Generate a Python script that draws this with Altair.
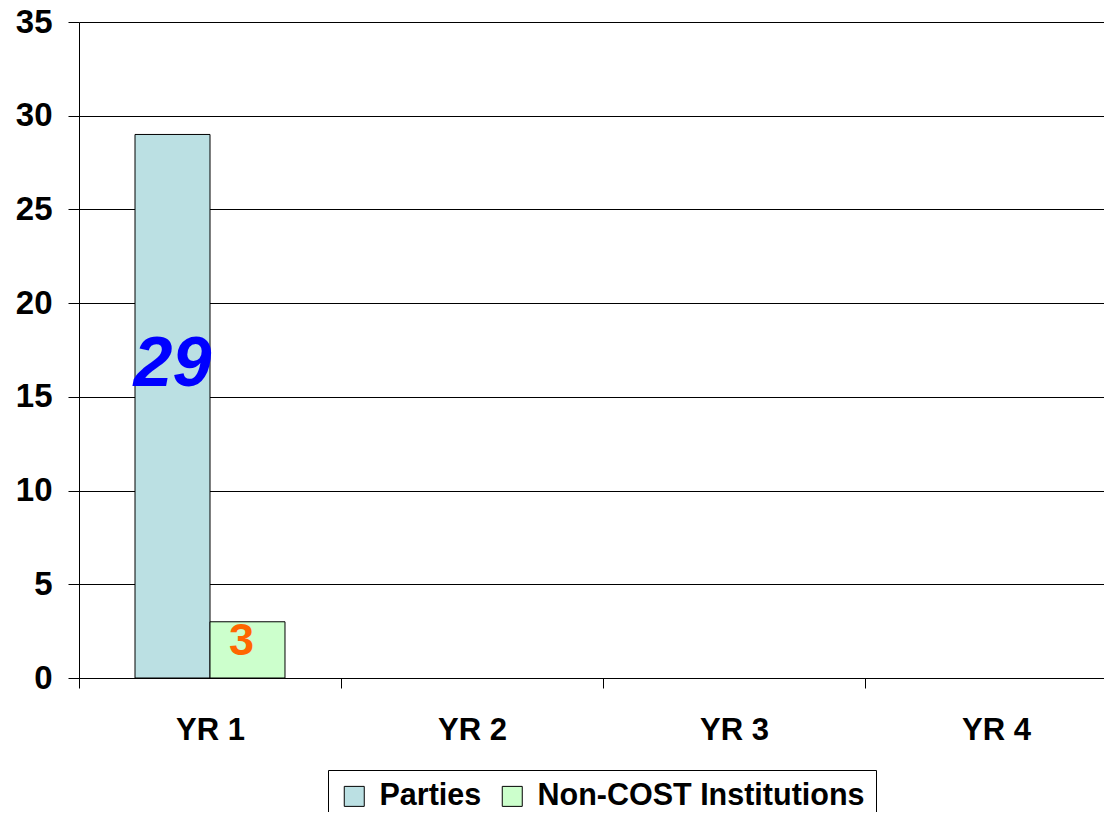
import altair as alt
import pandas as pd

years = ["YR 1", "YR 2", "YR 3", "YR 4"]
series = ["Parties", "Non-COST Institutions"]
parties = [29, None, None, None]
non_cost = [3, None, None, None]
colors = ["#BBE0E3", "#CCFFCC"]

rows = []
for i, y in enumerate(years):
    rows.append({"year": y, "series": series[0], "value": parties[i]})
    rows.append({"year": y, "series": series[1], "value": non_cost[i]})
df = pd.DataFrame(rows)

FONT = "Liberation Sans"

x_enc = alt.X("year:N", scale=alt.Scale(domain=years, range=[0, 1048], paddingInner=0, paddingOuter=0),
              axis=alt.Axis(title=None, labelAngle=0, labelFont=FONT, labelFontSize=31, labelFontWeight="bold",
                            labelColor="black", tickBand="extent", tickSize=10, tickColor="black",
                            domainColor="black", labelPadding=27, grid=False))
xoff = alt.XOffset("series:N", scale=alt.Scale(domain=series, paddingInner=0, paddingOuter=0.7467))
y_enc = alt.Y("value:Q", scale=alt.Scale(domain=[0, 35], nice=False),
              axis=alt.Axis(title=None, values=[0, 5, 10, 15, 20, 25, 30, 35], labelFont=FONT, labelFontSize=33,
                            labelFontWeight="bold", labelColor="black", tickSize=11, tickColor="black",
                            domainColor="black", gridColor="black", gridWidth=1, labelPadding=16))

bars = alt.Chart(df).mark_bar(stroke="black", strokeWidth=1).encode(
    x=x_enc, xOffset=xoff, y=y_enc,
    color=alt.Color("series:N", scale=alt.Scale(domain=series, range=colors),
                    legend=alt.Legend(title=None, orient="none", legendX=249, legendY=748, direction="horizontal",
                                      strokeColor="black", fillColor="white", padding=11, symbolType="square",
                                      symbolSize=400, symbolStrokeColor="black", symbolStrokeWidth=1,
                                      labelFont=FONT, labelFontSize=30.5, labelFontWeight="bold", labelColor="black",
                                      labelOffset=10, columnPadding=15, labelLimit=600, symbolOpacity=1)),
)

t1 = alt.Chart(df).transform_filter(alt.datum.series == "Parties").transform_filter("isValid(datum.value)").mark_text(
    font=FONT, fontSize=70, fontWeight="bold", fontStyle="italic", color="#0000FF", baseline="middle", dy=231
).encode(x=alt.X("year:N"), xOffset=alt.XOffset("series:N"), y=alt.Y("value:Q"), text=alt.Text("value:Q"))

t2 = alt.Chart(df).transform_filter(alt.datum.series == "Non-COST Institutions").transform_filter("isValid(datum.value)").mark_text(
    font=FONT, fontSize=45, fontWeight="bold", color="#FF6600", baseline="middle", dy=19, dx=-6
).encode(x=alt.X("year:N"), xOffset=alt.XOffset("series:N"), y=alt.Y("value:Q"), text=alt.Text("value:Q"))

chart = alt.layer(bars, t1, t2).properties(
    width=1025, height=656,
    autosize=alt.AutoSizeParams(type="none"),
    padding={"left": 71, "top": 14, "right": 0, "bottom": 134},
).configure_view(stroke=None).configure_axis(domainWidth=1, tickWidth=1)

chart.save("out.html", embed_options={"renderer": "svg", "actions": False})
